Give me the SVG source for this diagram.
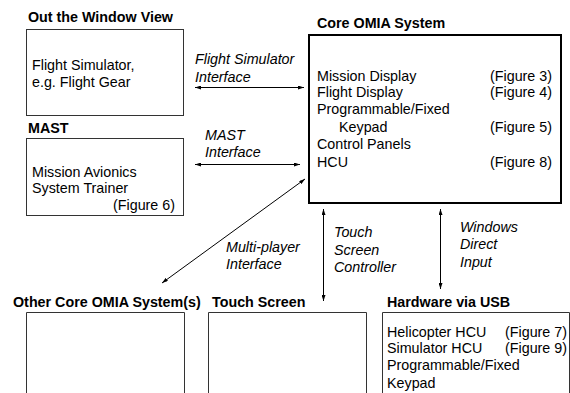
<svg xmlns="http://www.w3.org/2000/svg" width="570" height="393" viewBox="0 0 570 393">
<style>
text{font-family:"Liberation Sans",Arial,sans-serif;font-size:14.3px;fill:#000}
.t{font-weight:bold}
.i{font-style:italic}
.box{fill:#fff;stroke:#333;stroke-width:1}
.core{fill:#fff;stroke:#000;stroke-width:2}
.c{stroke:#000;stroke-width:1;fill:none;marker-start:url(#a);marker-end:url(#a)}
</style>
<defs>
<marker id="a" viewBox="0 0 6 4" refX="6" refY="2" markerWidth="6" markerHeight="4" orient="auto-start-reverse" markerUnits="userSpaceOnUse">
<path d="M0,0L6,2L0,4z" fill="#000"/>
</marker>
</defs>
<rect width="570" height="393" fill="#fff"/>
<g id="otw">
<text class="t" x="28" y="22">Out the Window View</text>
<rect class="box" x="26.5" y="29.5" width="157" height="86"/>
<text x="32" y="70">Flight Simulator,</text>
<text x="32" y="87">e.g. Flight Gear</text>
</g>
<g id="mast">
<text class="t" x="28" y="133">MAST</text>
<rect class="box" x="26.5" y="138.5" width="157" height="77"/>
<text x="32" y="177">Mission Avionics</text>
<text x="32" y="193">System Trainer</text>
<text x="175" y="210" text-anchor="end">(Figure 6)</text>
</g>
<g id="core">
<text class="t" x="317" y="28">Core OMIA System</text>
<rect class="core" x="309" y="35" width="252" height="168"/>
<text x="317" y="81">Mission Display</text>
<text x="552" y="81" text-anchor="end">(Figure 3)</text>
<text x="317" y="97">Flight Display</text>
<text x="552" y="97" text-anchor="end">(Figure 4)</text>
<text x="317" y="114">Programmable/Fixed</text>
<text x="339" y="132">Keypad</text>
<text x="552" y="132" text-anchor="end">(Figure 5)</text>
<text x="317" y="149">Control Panels</text>
<text x="317" y="167">HCU</text>
<text x="552" y="167" text-anchor="end">(Figure 8)</text>
</g>
<g id="other">
<text class="t" x="13" y="307">Other Core OMIA System(s)</text>
<path class="box" d="M26.5,394V312.5H184.5V394"/>
</g>
<g id="touch">
<text class="t" x="212" y="307">Touch Screen</text>
<path class="box" d="M208.5,394V312.5H366.5V394"/>
</g>
<g id="hw">
<text class="t" x="387" y="307">Hardware via USB</text>
<path class="box" d="M382.5,394V312.5H569.5V394"/>
<text x="387" y="337">Helicopter HCU</text>
<text x="567" y="337" text-anchor="end">(Figure 7)</text>
<text x="387" y="353">Simulator HCU</text>
<text x="567" y="353" text-anchor="end">(Figure 9)</text>
<text x="387" y="370">Programmable/Fixed</text>
<text x="387" y="388">Keypad</text>
</g>
<g id="connectors">
<line class="c" x1="195" y1="87.5" x2="304" y2="87.5"/>
<line class="c" x1="195" y1="164.5" x2="300" y2="164.5"/>
<line class="c" x1="162" y1="283" x2="305" y2="179"/>
<line class="c" x1="323.5" y1="209" x2="323.5" y2="301"/>
<line class="c" x1="440.5" y1="209" x2="440.5" y2="289"/>
<text class="i" x="195" y="64">Flight Simulator</text>
<text class="i" x="195" y="82">Interface</text>
<text class="i" x="205" y="140">MAST</text>
<text class="i" x="205" y="157">Interface</text>
<text class="i" x="226" y="252">Multi-player</text>
<text class="i" x="226" y="269">Interface</text>
<text class="i" x="334" y="237">Touch</text>
<text class="i" x="334" y="255">Screen</text>
<text class="i" x="334" y="272">Controller</text>
<text class="i" x="460" y="232">Windows</text>
<text class="i" x="460" y="249">Direct</text>
<text class="i" x="460" y="267">Input</text>
</g>
</svg>
